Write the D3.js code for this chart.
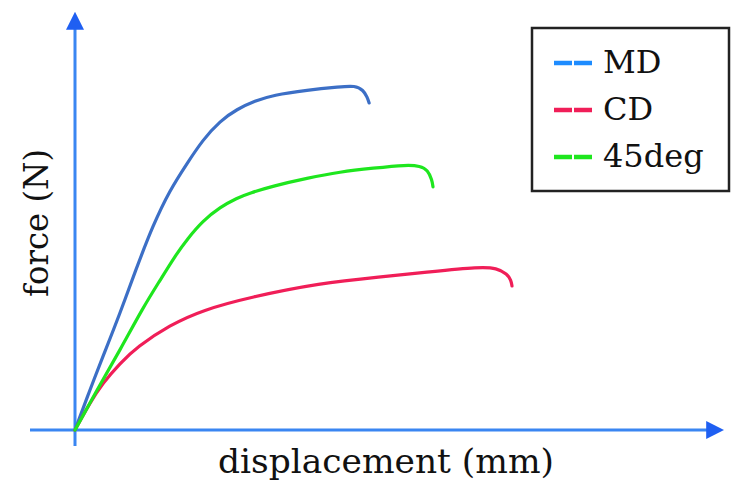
<!DOCTYPE html>
<html>
<head>
<meta charset="utf-8">
<script src="https://cdn.jsdelivr.net/npm/d3@7"></script>
<style>
  body { margin: 0; background: #fff; }
  text { font-family: "DejaVu Serif", serif; fill: #111; }
</style>
</head>
<body>
<div id="chart"></div>
<script>
// curves, displacement / force in relative units (0-100)
var series = ["MD", "CD", "45deg"];
var colors = ["#3c6fc6", "#f01e58", "#1ee61e"];
var legendColors = ["#1e8cff", "#f01e58", "#1ee61e"];

var mdX = [0, 2.3, 4.3, 7.0, 9.3, 12.1, 14.7, 17.4, 19.8, 22.5, 25.1, 27.9, 30.7, 36.0, 41.1, 43.4, 44.7, 45.3, 45.6];
var mdY = [0, 9.6, 17.6, 28.2, 38.1, 49.4, 57.8, 64.3, 69.9, 74.5, 77.3, 79.3, 80.7, 81.9, 82.7, 83.0, 81.9, 80.2, 78.8];

var cdX = [0, 2.3, 4.3, 7.0, 9.6, 14.7, 19.8, 27.1, 38.0, 47.3, 55.0, 62.8, 65.4, 67.0, 67.6, 67.75];
var cdY = [0, 6.5, 11.3, 16.1, 20.0, 25.3, 28.9, 32.0, 35.4, 36.9, 38.1, 39.3, 39.0, 37.6, 36.1, 34.7];

var degX = [0, 3.4, 7.0, 10.5, 13.2, 15.5, 17.4, 19.8, 22.5, 25.1, 27.1, 30.7, 36.0, 41.1, 46.2, 51.5, 53.5, 54.7, 55.35, 55.5];
var degY = [0, 9.6, 19.3, 29.4, 36.1, 41.9, 46.0, 50.4, 53.7, 55.9, 57.1, 58.8, 60.7, 62.2, 63.1, 63.9, 63.6, 62.65, 60.2, 58.6];

var w = 753, h = 504;
var svg = d3.select("#chart").append("svg")
    .attr("width", w)
    .attr("height", h);

var x = d3.scaleLinear().domain([0, 100]).range([75, 720]);
var y = d3.scaleLinear().domain([0, 100]).range([430, 15]);

// arrow heads
var defs = svg.append("defs");
defs.append("marker")
    .attr("id", "arrow")
    .attr("viewBox", "0 0 10 10")
    .attr("refX", 1).attr("refY", 5)
    .attr("markerWidth", 6).attr("markerHeight", 6)
    .attr("markerUnits", "strokeWidth")
    .attr("orient", "auto")
  .append("path")
    .attr("d", "M0,0 L10,5 L0,10 Z")
    .attr("fill", "#1f5ff2");

var axisColor = "#3a86f2";
// x axis
svg.append("line")
    .attr("x1", 30).attr("y1", y(0))
    .attr("x2", 708).attr("y2", y(0))
    .attr("stroke", axisColor).attr("stroke-width", 3)
    .attr("marker-end", "url(#arrow)");
// y axis
svg.append("line")
    .attr("x1", x(0)).attr("y1", 446)
    .attr("x2", x(0)).attr("y2", 28)
    .attr("stroke", axisColor).attr("stroke-width", 3)
    .attr("marker-end", "url(#arrow)");

var line = d3.line()
    .x(function(d) { return x(d[0]); })
    .y(function(d) { return y(d[1]); })
    .curve(d3.curveBasis);

var data = [d3.zip(mdX, mdY), d3.zip(cdX, cdY), d3.zip(degX, degY)];

svg.selectAll(".curve")
    .data(data)
    .enter()
    .append("path")
    .attr("class", "curve")
    .attr("d", line)
    .attr("fill", "none")
    .attr("stroke", function(d, i) { return colors[i]; })
    .attr("stroke-width", 3.2)
    .attr("stroke-linecap", "round");

// axis titles
svg.append("text")
    .attr("x", 386).attr("y", 473)
    .attr("text-anchor", "middle")
    .attr("font-size", 33)
    .attr("textLength", 336)
    .attr("lengthAdjust", "spacingAndGlyphs")
    .text("displacement (mm)");

svg.append("text")
    .attr("transform", "translate(48,223) rotate(-90)")
    .attr("text-anchor", "middle")
    .attr("font-size", 33)
    .attr("textLength", 148)
    .attr("lengthAdjust", "spacingAndGlyphs")
    .text("force (N)");

// legend
var legend = svg.append("g");
legend.append("rect")
    .attr("x", 532).attr("y", 28)
    .attr("width", 197).attr("height", 163)
    .attr("fill", "#fff")
    .attr("stroke", "#222").attr("stroke-width", 2.5);

var rows = legend.selectAll(".row")
    .data(series)
    .enter()
    .append("g")
    .attr("class", "row")
    .attr("transform", function(d, i) { return "translate(0," + (63 + i * 47) + ")"; });

rows.append("line")
    .attr("x1", 554).attr("x2", 572)
    .attr("stroke", function(d, i) { return legendColors[i]; })
    .attr("stroke-width", 4.5);
rows.append("line")
    .attr("x1", 574).attr("x2", 592)
    .attr("stroke", function(d, i) { return legendColors[i]; })
    .attr("stroke-width", 4.5);

rows.append("text")
    .attr("x", 603).attr("y", 10)
    .attr("font-size", 32)
    .text(function(d) { return d; });
</script>
</body>
</html>
